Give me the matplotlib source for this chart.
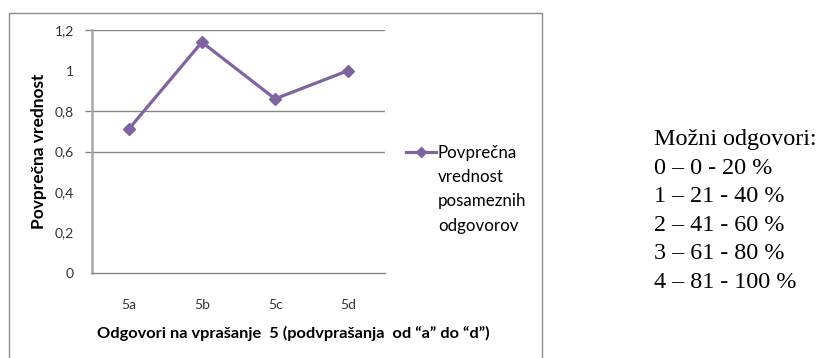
"""
Povprečna vrednost odgovorov na vprašanje 5 (podvprašanja a-d).
"""

import matplotlib.pyplot as plt
from matplotlib.patches import Rectangle
from matplotlib.lines import Line2D

# =============================================================
# Podatki
# =============================================================

podvprasanja = ['5a', '5b', '5c', '5d']
povprecja = [0.71, 1.14, 0.86, 1.0]
y_ticks = [0, 0.2, 0.4, 0.6, 0.8, 1.0, 1.2]
y_tick_labels = ['0', '0,2', '0,4', '0,6', '0,8', '1', '1,2']
mreza = [0.6, 0.8, 1.2]
legenda = ['Povprečna', 'vrednost', 'posameznih', 'odgovorov']
moznosti = ['Možni odgovori:', '0 – 0 - 20 %', '1 – 21 - 40 %',
            '2 – 41 - 60 %', '3 – 61 - 80 %', '4 – 81 - 100 %']

W, H = 825, 358
barva = '#8064A2'
siva = '#868686'
svetla_siva = '#a6a6a6'

# =============================================================
# Graf
# =============================================================

fig = plt.figure(figsize=(W / 100, H / 100), dpi=100)
fig.patch.set_facecolor('white')

# okvir grafa (spodnji rob je odrezan)
fig.patches.append(Rectangle((8.5 / W, -0.05), (541.5 - 8.5) / W, 1.05 - 12.5 / H,
                             transform=fig.transFigure, fill=False,
                             edgecolor='#8c8c8c', linewidth=1.0))

ax = fig.add_axes([92 / W, 1 - 273 / H, (385 - 92) / W, (273 - 30) / H])
x = range(len(podvprasanja))
ax.plot(x, povprecja, color=barva, linewidth=2.3, marker='D', markersize=6.5,
        clip_on=False, zorder=3)

ax.set_xlim(-0.5, len(podvprasanja) - 0.5)
ax.set_ylim(0, 1.2)
ax.yaxis.remove_overlapping_locs = False
ax.set_yticks(y_ticks)
ax.set_yticklabels(y_tick_labels)
ax.set_yticks(mreza, minor=True)
ax.set_xticks(list(x))
ax.set_xticklabels(podvprasanja)
ax.grid(axis='y', which='minor', color=siva, linewidth=1.0)
ax.set_axisbelow(True)
for s in ['top', 'right']:
    ax.spines[s].set_visible(False)
ax.spines['left'].set_color(svetla_siva)
ax.spines['left'].set_linewidth(1.8)
ax.spines['bottom'].set_color(siva)
ax.spines['bottom'].set_linewidth(1.0)
ax.tick_params(axis='y', which='major', length=0, labelsize=10, pad=13,
               labelcolor='#333333')
ax.tick_params(axis='y', which='minor', length=5, width=1.0, color=siva)
ax.tick_params(axis='x', length=0, labelsize=10, pad=19, labelcolor='#333333')
for lbl in ax.get_xticklabels() + ax.get_yticklabels():
    lbl.set_fontfamily('Lato')

fig.text(39 / W, 1 - 151 / H, 'Povprečna vrednost', rotation=90,
         fontfamily='Lato', fontweight='bold', fontsize=12.5,
         ha='center', va='center')
fig.text(97 / W, 1 - 333 / H,
         'Odgovori na vprašanje  5 (podvprašanja  od “a” do “d”)',
         fontfamily='Lato', fontweight='bold', fontsize=11.8,
         ha='left', va='center')

# legenda: oznaka ob prvi vrstici, ostale vrstice pod njo
leg = fig.legend(handles=[Line2D([], [], color=barva, linewidth=2.3, marker='D',
                                 markersize=5.5)],
                 labels=[legenda[0]],
                 loc='center left', bbox_to_anchor=(406 / W, 1 - 153 / H),
                 frameon=False, handlelength=1.75, handletextpad=0.12,
                 borderpad=0, borderaxespad=0,
                 prop={'family': 'Lato', 'size': 12.2})
for i, vrstica in enumerate(legenda[1:], start=1):
    fig.text(438 / W, 1 - (153 + i * 24.2) / H, vrstica, fontfamily='Lato',
             fontsize=12.2, ha='left', va='center')

# možni odgovori
for i, vrstica in enumerate(moznosti):
    fig.text(654 / W, 1 - (140 + i * 28.4) / H, vrstica,
             fontfamily='Liberation Serif', fontsize=17.4,
             va='center', ha='left')

plt.savefig('out.png', dpi=100)
